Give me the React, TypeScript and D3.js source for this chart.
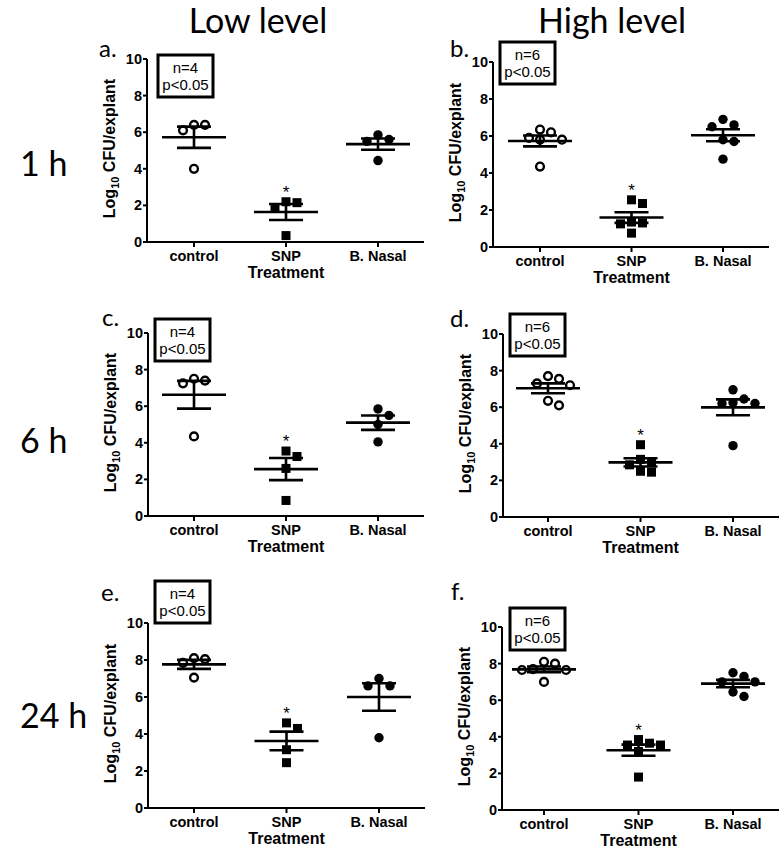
import React, { useEffect, useRef } from "react";
import * as d3 from "d3";

const width = 781;
const height = 852;

const columnTitles = ["Low level", "High level"];
const rowTitles = ["1 h", "6 h", "24 h"];
const panelLetters = ["a.", "b.", "c.", "d.", "e.", "f."];
const categories = ["control", "SNP", "B. Nasal"];
const yTicks = [0, 2, 4, 6, 8, 10];
const nLabels = ["n=4", "n=6", "n=4", "n=6", "n=4", "n=6"];
const pLabel = "p<0.05";
const xTitle = "Treatment";

// log10 CFU per explant, one list per panel (a..f)
const controlValues = [
  [6.4, 6.4, 6.1, 4.0],
  [6.2, 6.35, 5.8, 5.8, 5.9, 4.35],
  [7.4, 7.5, 7.25, 4.35],
  [7.7, 7.3, 7.2, 7.55, 6.1, 6.35],
  [8.05, 8.1, 7.85, 7.05],
  [8.1, 8.0, 7.65, 7.65, 7.7, 7.0],
];
const snpValues = [
  [2.15, 2.2, 1.85, 0.35],
  [2.35, 2.55, 1.3, 1.25, 1.35, 0.75],
  [3.55, 3.25, 2.6, 0.85],
  [3.95, 3.15, 2.85, 3.0, 2.5, 2.45],
  [4.6, 4.3, 3.15, 2.45],
  [3.85, 3.55, 3.65, 3.55, 3.2, 1.8],
];
const nasalValues = [
  [5.6, 5.85, 5.5, 4.45],
  [6.9, 6.6, 6.5, 5.8, 5.7, 4.75],
  [5.5, 5.85, 5.0, 4.05],
  [6.45, 6.95, 6.2, 6.25, 6.2, 3.9],
  [6.6, 6.6, 7.0, 3.8],
  [7.3, 7.5, 7.0, 7.0, 6.45, 6.2],
];

// panel frames: y axis x, pixel of 0 and 10, first and last category x, box corner, letter
const frames = [
  { ax: 147, y0: 242, y10: 59, x0: 194, x2: 378, box: [158, 55], letter: [98, 57] },
  { ax: 493, y0: 247, y10: 62, x0: 540, x2: 723, box: [500, 42], letter: [449, 57] },
  { ax: 148, y0: 516, y10: 333, x0: 194, x2: 378, box: [155, 319], letter: [101, 326] },
  { ax: 503, y0: 517, y10: 334, x0: 548, x2: 733, box: [510, 314], letter: [449, 327] },
  { ax: 148, y0: 808, y10: 623, x0: 194, x2: 379, box: [155, 581], letter: [100, 601] },
  { ax: 502, y0: 810, y10: 627, x0: 544, x2: 733, box: [510, 608], letter: [450, 600] },
];

const SANS = "'Liberation Sans', Arial, sans-serif";
const TITLE = "Lato, 'Open Sans', sans-serif";

// simple swarm so equal values sit side by side
const swarm = (ys: number[], step = 11, minDist = 10) => {
  const order = d3.range(ys.length).sort((i, j) => ys[i] - ys[j]);
  const placed: { x: number; y: number }[] = [];
  const dx = new Array(ys.length).fill(0);
  order.forEach((i) => {
    const y = ys[i];
    for (let k = 0; k < 20; k++) {
      const off = k === 0 ? 0 : Math.ceil(k / 2) * step * (k % 2 ? 1 : -1);
      const hit = placed.some((p) => Math.hypot(p.x - off, p.y - y) < minDist);
      if (!hit) {
        dx[i] = off;
        placed.push({ x: off, y });
        break;
      }
    }
  });
  return dx;
};

const App = () => {
  const ref = useRef<SVGSVGElement>(null);

  useEffect(() => {
    document.body.style.margin = "0";
    const svg = d3.select(ref.current);
    svg.selectAll("*").remove();

    // column and row headings
    svg
      .selectAll("text.col")
      .data(columnTitles)
      .join("text")
      .attr("x", (d, i) => [258, 612][i])
      .attr("y", 33)
      .attr("text-anchor", "middle")
      .attr("font-family", TITLE)
      .attr("font-size", 34)
      .text((d) => d);

    svg
      .selectAll("text.row")
      .data(rowTitles)
      .join("text")
      .attr("x", 20)
      .attr("y", (d, i) => [176, 453, 728][i])
      .attr("font-family", TITLE)
      .attr("font-size", 34)
      .text((d) => d);

    frames.forEach((f, p) => {
      const g = svg.append("g");
      const y = d3.scaleLinear().domain([0, 10]).range([f.y0, f.y10]);
      const x = d3.scalePoint().domain(categories).range([f.x0, f.x2]);
      const xEnd = f.x2 + 46;

      // axes
      g.append("line")
        .attr("x1", f.ax).attr("x2", f.ax)
        .attr("y1", y(0)).attr("y2", y(10))
        .attr("stroke", "#000").attr("stroke-width", 2);
      g.append("line")
        .attr("x1", f.ax - 4).attr("x2", xEnd)
        .attr("y1", y(0)).attr("y2", y(0))
        .attr("stroke", "#000").attr("stroke-width", 2);

      g.selectAll("line.yt")
        .data(yTicks)
        .join("line")
        .attr("x1", f.ax - 4).attr("x2", f.ax)
        .attr("y1", (d) => y(d)).attr("y2", (d) => y(d))
        .attr("stroke", "#000").attr("stroke-width", 2);
      g.selectAll("text.yt")
        .data(yTicks)
        .join("text")
        .attr("x", f.ax - 5)
        .attr("y", (d) => y(d) + 5)
        .attr("text-anchor", "end")
        .attr("font-family", SANS).attr("font-weight", 700).attr("font-size", 14.5)
        .text((d) => d);

      g.selectAll("line.xt")
        .data(categories)
        .join("line")
        .attr("x1", (d) => x(d)!).attr("x2", (d) => x(d)!)
        .attr("y1", y(0)).attr("y2", y(0) + 5)
        .attr("stroke", "#000").attr("stroke-width", 2);
      g.selectAll("text.xt")
        .data(categories)
        .join("text")
        .attr("x", (d) => x(d)!)
        .attr("y", y(0) + 19)
        .attr("text-anchor", "middle")
        .attr("font-family", SANS).attr("font-weight", 700).attr("font-size", 14.5)
        .text((d) => d);

      g.append("text")
        .attr("x", x("SNP")!)
        .attr("y", y(0) + 36)
        .attr("text-anchor", "middle")
        .attr("font-family", SANS).attr("font-weight", 700).attr("font-size", 16)
        .text(xTitle);

      const yt = g.append("text")
        .attr("transform", `translate(${f.ax - 32},${(y(0) + y(10)) / 2 - 2}) rotate(-90)`)
        .attr("text-anchor", "middle")
        .attr("font-family", SANS).attr("font-weight", 700).attr("font-size", 16);
      yt.append("tspan").text("Log");
      yt.append("tspan").attr("font-size", 11).attr("dy", 4).text("10");
      yt.append("tspan").attr("dy", -4).text(" CFU/explant");

      // panel letter
      g.append("text")
        .attr("x", f.letter[0] + 1).attr("y", f.letter[1])
        .attr("font-family", TITLE).attr("font-size", 24)
        .text(panelLetters[p]);

      // n / p box
      g.append("rect")
        .attr("x", f.box[0]).attr("y", f.box[1])
        .attr("width", 55).attr("height", 42)
        .attr("fill", "#fff").attr("stroke", "#000").attr("stroke-width", 3);
      g.selectAll("text.box")
        .data([nLabels[p], pLabel])
        .join("text")
        .attr("x", f.box[0] + 27.5)
        .attr("y", (d, i) => f.box[1] + 18 + i * 17)
        .attr("text-anchor", "middle")
        .attr("font-family", SANS).attr("font-size", 15)
        .text((d) => d);

      const groups = [
        { cat: "control", vals: controlValues[p], shape: "open" },
        { cat: "SNP", vals: snpValues[p], shape: "square" },
        { cat: "B. Nasal", vals: nasalValues[p], shape: "dot" },
      ];

      groups.forEach((grp) => {
        const cx = x(grp.cat)!;
        const offs = swarm(grp.vals.map((v) => y(v)));
        const pts = grp.vals.map((v, i) => ({ px: cx + offs[i], py: y(v) }));

        if (grp.shape === "square") {
          g.selectAll(null)
            .data(pts)
            .join("rect")
            .attr("x", (d) => d.px - 4.5).attr("y", (d) => d.py - 4.5)
            .attr("width", 9).attr("height", 9)
            .attr("fill", "#000");
        } else {
          g.selectAll(null)
            .data(pts)
            .join("circle")
            .attr("cx", (d) => d.px).attr("cy", (d) => d.py)
            .attr("r", grp.shape === "open" ? 3.9 : 4.7)
            .attr("fill", grp.shape === "open" ? "#fff" : "#000")
            .attr("stroke", "#000")
            .attr("stroke-width", grp.shape === "open" ? 2.4 : 0);
        }

        const mean = d3.mean(grp.vals)!;
        const sem = d3.deviation(grp.vals)! / Math.sqrt(grp.vals.length);
        const lines = [
          [cx - 32, cx + 32, y(mean), y(mean)],
          [cx - 17, cx + 17, y(mean + sem), y(mean + sem)],
          [cx - 17, cx + 17, y(mean - sem), y(mean - sem)],
          [cx, cx, y(mean + sem), y(mean - sem)],
        ];
        g.selectAll(null)
          .data(lines)
          .join("line")
          .attr("x1", (d) => d[0]).attr("x2", (d) => d[1])
          .attr("y1", (d) => d[2]).attr("y2", (d) => d[3])
          .attr("stroke", "#000").attr("stroke-width", 2.6);

        if (grp.cat === "SNP") {
          g.append("text")
            .attr("x", cx)
            .attr("y", y(d3.max(grp.vals)!) - 4)
            .attr("text-anchor", "middle")
            .attr("font-family", SANS).attr("font-size", 17)
            .text("*");
        }
      });
    });
  }, []);

  return (
    <svg
      ref={ref}
      width={width}
      height={height}
      viewBox={`0 0 ${width} ${height}`}
      style={{ display: "block", background: "#fff" }}
    ></svg>
  );
};

export default App;
